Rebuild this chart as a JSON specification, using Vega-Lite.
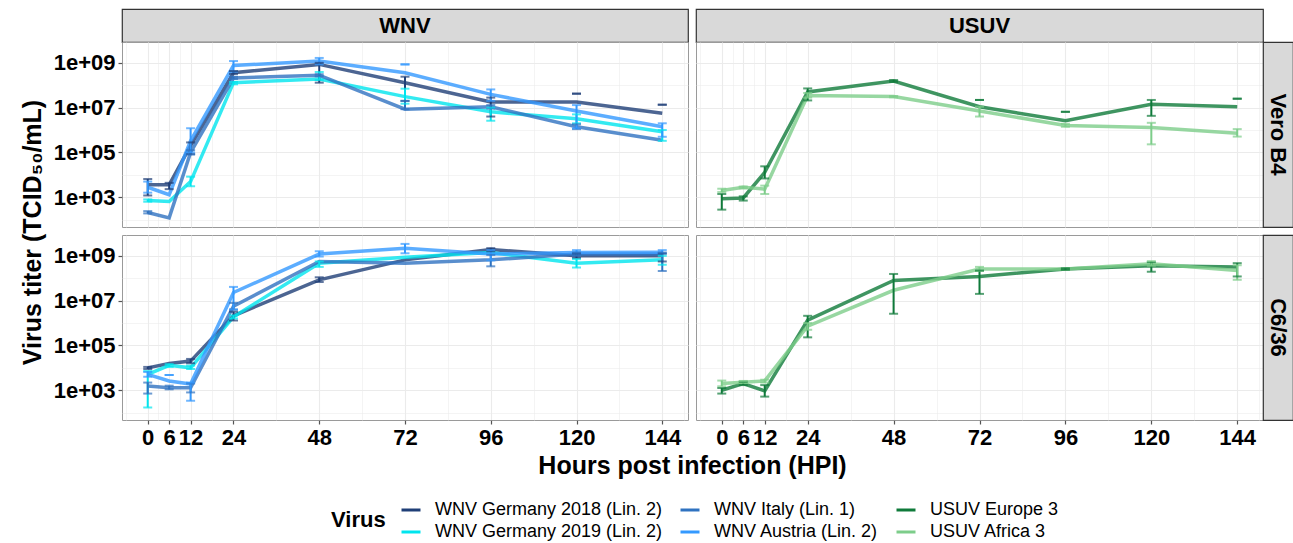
{
  "$schema": "https://vega.github.io/schema/vega-lite/v6.json",
  "background": "white",
  "padding": {"left": 19, "top": 7, "right": 2, "bottom": 2},
  "config": {
    "font": "Liberation Sans",
    "view": {"stroke": "#9a9a9a", "strokeWidth": 1},
    "axis": {
      "labelFont": "Liberation Sans", "titleFont": "Liberation Sans",
      "labelFontSize": 22, "labelFontWeight": "bold", "labelColor": "black",
      "titleFontSize": 25, "titleFontWeight": "bold", "titleColor": "black",
      "gridColor": "#ebebeb", "domain": false, "tickSize": 4, "tickWidth": 1.2,
      "labelPadding": 3, "labelOverlap": false, "labelFlush": false
    },
    "legend": {"labelFont": "Liberation Sans", "titleFont": "Liberation Sans"}
  },
  "datasets": {
    "d": [
      {"v":"WNV Germany 2018 (Lin. 2)","f":"WNV","c":"Vero B4","h":0,"m":3600,"lo":1200,"hi":6500},
      {"v":"WNV Germany 2018 (Lin. 2)","f":"WNV","c":"Vero B4","h":6,"m":3600,"lo":2300,"hi":4400},
      {"v":"WNV Germany 2018 (Lin. 2)","f":"WNV","c":"Vero B4","h":12,"m":200000,"lo":85000,"hi":280000},
      {"v":"WNV Germany 2018 (Lin. 2)","f":"WNV","c":"Vero B4","h":24,"m":3.6e8,"lo":3.2e8,"hi":4.3e8},
      {"v":"WNV Germany 2018 (Lin. 2)","f":"WNV","c":"Vero B4","h":48,"m":8.5e8,"lo":1.3e8,"hi":1.0e9},
      {"v":"WNV Germany 2018 (Lin. 2)","f":"WNV","c":"Vero B4","h":72,"m":1.3e8,"lo":2.0e7,"hi":2.4e8},
      {"v":"WNV Germany 2018 (Lin. 2)","f":"WNV","c":"Vero B4","h":96,"m":1.8e7,"lo":4.0e6,"hi":2.8e7},
      {"v":"WNV Germany 2018 (Lin. 2)","f":"WNV","c":"Vero B4","h":120,"m":1.8e7,"lo":4.2e7,"hi":4.2e7},
      {"v":"WNV Germany 2018 (Lin. 2)","f":"WNV","c":"Vero B4","h":144,"m":5.6e6,"lo":1.35e7,"hi":1.35e7},
      {"v":"WNV Germany 2019 (Lin. 2)","f":"WNV","c":"Vero B4","h":0,"m":710,"lo":630,"hi":800},
      {"v":"WNV Germany 2019 (Lin. 2)","f":"WNV","c":"Vero B4","h":6,"m":650},
      {"v":"WNV Germany 2019 (Lin. 2)","f":"WNV","c":"Vero B4","h":12,"m":5000,"lo":3100,"hi":8300},
      {"v":"WNV Germany 2019 (Lin. 2)","f":"WNV","c":"Vero B4","h":24,"m":1.3e8,"lo":1.1e8,"hi":1.4e8},
      {"v":"WNV Germany 2019 (Lin. 2)","f":"WNV","c":"Vero B4","h":48,"m":1.9e8,"lo":1.7e8,"hi":3.9e8},
      {"v":"WNV Germany 2019 (Lin. 2)","f":"WNV","c":"Vero B4","h":72,"m":3.1e7,"lo":1.5e7,"hi":7.0e7},
      {"v":"WNV Germany 2019 (Lin. 2)","f":"WNV","c":"Vero B4","h":96,"m":6.5e6,"lo":2.6e6,"hi":1.0e7},
      {"v":"WNV Germany 2019 (Lin. 2)","f":"WNV","c":"Vero B4","h":120,"m":3.2e6,"lo":2.0e6,"hi":5.0e6},
      {"v":"WNV Germany 2019 (Lin. 2)","f":"WNV","c":"Vero B4","h":144,"m":8.3e5,"lo":3.3e5,"hi":1.0e6},
      {"v":"WNV Italy (Lin. 1)","f":"WNV","c":"Vero B4","h":0,"m":210,"lo":190,"hi":240},
      {"v":"WNV Italy (Lin. 1)","f":"WNV","c":"Vero B4","h":6,"m":120},
      {"v":"WNV Italy (Lin. 1)","f":"WNV","c":"Vero B4","h":12,"m":100000,"lo":80000,"hi":126000},
      {"v":"WNV Italy (Lin. 1)","f":"WNV","c":"Vero B4","h":24,"m":2.1e8,"lo":1.9e8,"hi":2.4e8},
      {"v":"WNV Italy (Lin. 1)","f":"WNV","c":"Vero B4","h":48,"m":2.8e8,"lo":2.5e8,"hi":3.1e8},
      {"v":"WNV Italy (Lin. 1)","f":"WNV","c":"Vero B4","h":72,"m":8.5e6,"lo":8.5e6,"hi":2.0e7},
      {"v":"WNV Italy (Lin. 1)","f":"WNV","c":"Vero B4","h":96,"m":1.1e7,"lo":9.0e6,"hi":1.3e7},
      {"v":"WNV Italy (Lin. 1)","f":"WNV","c":"Vero B4","h":120,"m":1.4e6,"lo":1.1e6,"hi":1.8e6},
      {"v":"WNV Italy (Lin. 1)","f":"WNV","c":"Vero B4","h":144,"m":3.5e5},
      {"v":"WNV Austria (Lin. 2)","f":"WNV","c":"Vero B4","h":0,"m":2800,"lo":1600,"hi":5000},
      {"v":"WNV Austria (Lin. 2)","f":"WNV","c":"Vero B4","h":6,"m":1300},
      {"v":"WNV Austria (Lin. 2)","f":"WNV","c":"Vero B4","h":12,"m":330000,"lo":100000,"hi":1200000},
      {"v":"WNV Austria (Lin. 2)","f":"WNV","c":"Vero B4","h":24,"m":7.6e8,"lo":4.0e8,"hi":1.2e9},
      {"v":"WNV Austria (Lin. 2)","f":"WNV","c":"Vero B4","h":48,"m":1.2e9,"lo":8.5e8,"hi":1.65e9},
      {"v":"WNV Austria (Lin. 2)","f":"WNV","c":"Vero B4","h":72,"m":3.6e8,"lo":8.5e8,"hi":8.5e8},
      {"v":"WNV Austria (Lin. 2)","f":"WNV","c":"Vero B4","h":96,"m":3.9e7,"lo":2.0e7,"hi":6.5e7},
      {"v":"WNV Austria (Lin. 2)","f":"WNV","c":"Vero B4","h":120,"m":7.1e6,"lo":1.2e6,"hi":1.3e7},
      {"v":"WNV Austria (Lin. 2)","f":"WNV","c":"Vero B4","h":144,"m":1.4e6,"lo":5.0e5,"hi":2.0e6},
      {"v":"USUV Europe 3","f":"USUV","c":"Vero B4","h":0,"m":850,"lo":280,"hi":1400},
      {"v":"USUV Europe 3","f":"USUV","c":"Vero B4","h":6,"m":930,"lo":710,"hi":1100},
      {"v":"USUV Europe 3","f":"USUV","c":"Vero B4","h":12,"m":13000,"lo":6900,"hi":24000},
      {"v":"USUV Europe 3","f":"USUV","c":"Vero B4","h":24,"m":5.0e7,"lo":2.1e7,"hi":7.2e7},
      {"v":"USUV Europe 3","f":"USUV","c":"Vero B4","h":48,"m":1.55e8,"lo":1.4e8,"hi":1.7e8},
      {"v":"USUV Europe 3","f":"USUV","c":"Vero B4","h":72,"m":1.1e7,"lo":2.2e7,"hi":2.2e7},
      {"v":"USUV Europe 3","f":"USUV","c":"Vero B4","h":96,"m":2.6e6,"lo":6.5e6,"hi":6.5e6},
      {"v":"USUV Europe 3","f":"USUV","c":"Vero B4","h":120,"m":1.4e7,"lo":4.3e6,"hi":2.2e7},
      {"v":"USUV Europe 3","f":"USUV","c":"Vero B4","h":144,"m":1.1e7,"lo":2.5e7,"hi":2.5e7},
      {"v":"USUV Africa 3","f":"USUV","c":"Vero B4","h":0,"m":2000,"lo":1700,"hi":2400},
      {"v":"USUV Africa 3","f":"USUV","c":"Vero B4","h":6,"m":2800,"lo":2500,"hi":3000},
      {"v":"USUV Africa 3","f":"USUV","c":"Vero B4","h":12,"m":2300,"lo":1400,"hi":3300},
      {"v":"USUV Africa 3","f":"USUV","c":"Vero B4","h":24,"m":3.5e7,"lo":2.8e7,"hi":4.5e7},
      {"v":"USUV Africa 3","f":"USUV","c":"Vero B4","h":48,"m":3.1e7,"lo":2.9e7,"hi":3.3e7},
      {"v":"USUV Africa 3","f":"USUV","c":"Vero B4","h":72,"m":7.1e6,"lo":4.0e6,"hi":1.1e7},
      {"v":"USUV Africa 3","f":"USUV","c":"Vero B4","h":96,"m":1.6e6,"lo":1.4e6,"hi":1.9e6},
      {"v":"USUV Africa 3","f":"USUV","c":"Vero B4","h":120,"m":1.3e6,"lo":2.3e5,"hi":2.1e6},
      {"v":"USUV Africa 3","f":"USUV","c":"Vero B4","h":144,"m":7.2e5,"lo":5.1e5,"hi":1.1e6},
      {"v":"WNV Germany 2018 (Lin. 2)","f":"WNV","c":"C6/36","h":0,"m":10000,"lo":8900,"hi":11000},
      {"v":"WNV Germany 2018 (Lin. 2)","f":"WNV","c":"C6/36","h":6,"m":15500},
      {"v":"WNV Germany 2018 (Lin. 2)","f":"WNV","c":"C6/36","h":12,"m":20000,"lo":16000,"hi":25000},
      {"v":"WNV Germany 2018 (Lin. 2)","f":"WNV","c":"C6/36","h":24,"m":2.1e6,"lo":1.3e6,"hi":3.2e6},
      {"v":"WNV Germany 2018 (Lin. 2)","f":"WNV","c":"C6/36","h":48,"m":8.5e7,"lo":6.8e7,"hi":1.1e8},
      {"v":"WNV Germany 2018 (Lin. 2)","f":"WNV","c":"C6/36","h":72,"m":6.6e8},
      {"v":"WNV Germany 2018 (Lin. 2)","f":"WNV","c":"C6/36","h":96,"m":1.9e9,"lo":1.6e9,"hi":2.2e9},
      {"v":"WNV Germany 2018 (Lin. 2)","f":"WNV","c":"C6/36","h":120,"m":1.0e9,"lo":8.0e8,"hi":1.26e9},
      {"v":"WNV Germany 2018 (Lin. 2)","f":"WNV","c":"C6/36","h":144,"m":1.0e9,"lo":5.6e8,"hi":1.26e9},
      {"v":"WNV Germany 2019 (Lin. 2)","f":"WNV","c":"C6/36","h":0,"m":5100,"lo":170,"hi":7200},
      {"v":"WNV Germany 2019 (Lin. 2)","f":"WNV","c":"C6/36","h":6,"m":13000,"lo":11000,"hi":14500},
      {"v":"WNV Germany 2019 (Lin. 2)","f":"WNV","c":"C6/36","h":12,"m":10000,"lo":8900,"hi":12600},
      {"v":"WNV Germany 2019 (Lin. 2)","f":"WNV","c":"C6/36","h":24,"m":1.9e6,"lo":1.6e6,"hi":2.2e6},
      {"v":"WNV Germany 2019 (Lin. 2)","f":"WNV","c":"C6/36","h":48,"m":4.7e8,"lo":3.2e8,"hi":5.6e8},
      {"v":"WNV Germany 2019 (Lin. 2)","f":"WNV","c":"C6/36","h":72,"m":8.7e8},
      {"v":"WNV Germany 2019 (Lin. 2)","f":"WNV","c":"C6/36","h":96,"m":1.4e9},
      {"v":"WNV Germany 2019 (Lin. 2)","f":"WNV","c":"C6/36","h":120,"m":4.7e8,"lo":3.0e8,"hi":7.1e8},
      {"v":"WNV Germany 2019 (Lin. 2)","f":"WNV","c":"C6/36","h":144,"m":6.6e8,"lo":4.0e8,"hi":1.0e9},
      {"v":"WNV Italy (Lin. 1)","f":"WNV","c":"C6/36","h":0,"m":1550,"lo":710,"hi":2200},
      {"v":"WNV Italy (Lin. 1)","f":"WNV","c":"C6/36","h":6,"m":1300,"lo":1100,"hi":1600},
      {"v":"WNV Italy (Lin. 1)","f":"WNV","c":"C6/36","h":12,"m":1300,"lo":800,"hi":2000},
      {"v":"WNV Italy (Lin. 1)","f":"WNV","c":"C6/36","h":24,"m":5.6e6,"lo":4.0e6,"hi":7.9e6},
      {"v":"WNV Italy (Lin. 1)","f":"WNV","c":"C6/36","h":48,"m":5.6e8},
      {"v":"WNV Italy (Lin. 1)","f":"WNV","c":"C6/36","h":72,"m":4.7e8},
      {"v":"WNV Italy (Lin. 1)","f":"WNV","c":"C6/36","h":96,"m":6.6e8,"lo":3.4e8,"hi":1.1e9},
      {"v":"WNV Italy (Lin. 1)","f":"WNV","c":"C6/36","h":120,"m":1.2e9,"lo":1.0e9,"hi":1.4e9},
      {"v":"WNV Italy (Lin. 1)","f":"WNV","c":"C6/36","h":144,"m":1.2e9,"lo":2.1e8,"hi":1.4e9},
      {"v":"WNV Austria (Lin. 2)","f":"WNV","c":"C6/36","h":0,"m":5100,"lo":4000,"hi":6500},
      {"v":"WNV Austria (Lin. 2)","f":"WNV","c":"C6/36","h":6,"m":2600,"lo":4800,"hi":4800},
      {"v":"WNV Austria (Lin. 2)","f":"WNV","c":"C6/36","h":12,"m":1900,"lo":340,"hi":2200},
      {"v":"WNV Austria (Lin. 2)","f":"WNV","c":"C6/36","h":24,"m":2.3e7,"lo":4.0e6,"hi":4.1e7},
      {"v":"WNV Austria (Lin. 2)","f":"WNV","c":"C6/36","h":48,"m":1.2e9,"lo":9.3e8,"hi":1.6e9},
      {"v":"WNV Austria (Lin. 2)","f":"WNV","c":"C6/36","h":72,"m":2.2e9,"lo":1.3e9,"hi":3.4e9},
      {"v":"WNV Austria (Lin. 2)","f":"WNV","c":"C6/36","h":96,"m":1.2e9,"lo":6.3e8,"hi":1.8e9},
      {"v":"WNV Austria (Lin. 2)","f":"WNV","c":"C6/36","h":120,"m":1.4e9,"lo":1.26e9,"hi":1.8e9},
      {"v":"WNV Austria (Lin. 2)","f":"WNV","c":"C6/36","h":144,"m":1.45e9,"lo":1.26e9,"hi":1.8e9},
      {"v":"USUV Europe 3","f":"USUV","c":"C6/36","h":0,"m":1000,"lo":710,"hi":1260},
      {"v":"USUV Europe 3","f":"USUV","c":"C6/36","h":6,"m":2000,"lo":1700,"hi":2400},
      {"v":"USUV Europe 3","f":"USUV","c":"C6/36","h":12,"m":930,"lo":520,"hi":1700},
      {"v":"USUV Europe 3","f":"USUV","c":"C6/36","h":24,"m":1.35e6,"lo":2.3e5,"hi":2.1e6},
      {"v":"USUV Europe 3","f":"USUV","c":"C6/36","h":48,"m":7.9e7,"lo":2.6e6,"hi":1.55e8},
      {"v":"USUV Europe 3","f":"USUV","c":"C6/36","h":72,"m":1.2e8,"lo":2.0e7,"hi":2.2e8},
      {"v":"USUV Europe 3","f":"USUV","c":"C6/36","h":96,"m":2.6e8,"lo":2.4e8,"hi":2.75e8},
      {"v":"USUV Europe 3","f":"USUV","c":"C6/36","h":120,"m":3.6e8,"lo":1.95e8,"hi":5.2e8},
      {"v":"USUV Europe 3","f":"USUV","c":"C6/36","h":144,"m":3.2e8,"lo":1.2e8,"hi":4.7e8},
      {"v":"USUV Africa 3","f":"USUV","c":"C6/36","h":0,"m":2000,"lo":1500,"hi":2700},
      {"v":"USUV Africa 3","f":"USUV","c":"C6/36","h":6,"m":2300,"lo":2100,"hi":2600},
      {"v":"USUV Africa 3","f":"USUV","c":"C6/36","h":12,"m":2600,"lo":2200,"hi":2950},
      {"v":"USUV Africa 3","f":"USUV","c":"C6/36","h":24,"m":7.2e5,"lo":5.0e5,"hi":1.0e6},
      {"v":"USUV Africa 3","f":"USUV","c":"C6/36","h":48,"m":2.9e7},
      {"v":"USUV Africa 3","f":"USUV","c":"C6/36","h":72,"m":2.6e8,"lo":2.1e8,"hi":3.2e8},
      {"v":"USUV Africa 3","f":"USUV","c":"C6/36","h":96,"m":2.6e8},
      {"v":"USUV Africa 3","f":"USUV","c":"C6/36","h":120,"m":4.4e8,"lo":3.6e8,"hi":5.8e8},
      {"v":"USUV Africa 3","f":"USUV","c":"C6/36","h":144,"m":2.2e8,"lo":8.5e7,"hi":3.8e8}
    ]
  },
  "columns": 4,
  "spacing": 0,
  "bounds": "flush",
  "align": "each",
  "concat": [
    {"width": 566, "height": 33, "data": {"values": [{"t": "WNV"}]}, "mark": {"type": "text", "fontSize": 22, "fontWeight": "bold", "color": "black", "font": "Liberation Sans"}, "encoding": {"text": {"field": "t"}}, "view": {"fill": "#d9d9d9", "stroke": "#333333", "strokeWidth": 1.2}},
    {"width": 8, "height": 8, "data": {"values": [{}]}, "mark": "text", "encoding": {"text": {"value": ""}}, "view": {"stroke": null}},
    {"width": 567, "height": 33, "data": {"values": [{"t": "USUV"}]}, "mark": {"type": "text", "fontSize": 22, "fontWeight": "bold", "color": "black", "font": "Liberation Sans"}, "encoding": {"text": {"field": "t"}}, "view": {"fill": "#d9d9d9", "stroke": "#333333", "strokeWidth": 1.2}},
    {"width": 8, "height": 8, "data": {"values": [{}]}, "mark": "text", "encoding": {"text": {"value": ""}}, "view": {"stroke": null}},

    {"width": 566, "height": 185, "data": {"name": "d"},
     "transform": [{"filter": "datum.f === 'WNV' && datum.c === 'Vero B4'"}],
     "encoding": {"x": {"field": "h", "type": "quantitative", "scale": {"domain": [-7.2, 151.2], "nice": false, "zero": false},
       "axis": {"values": [-6, 0, 3, 6, 9, 12, 18, 24, 36, 48, 60, 72, 84, 96, 108, 120, 132, 144, 150], "labels": false, "ticks": false, "title": null,
         "gridWidth": {"condition": {"test": "indexof([0,6,12,24,48,72,96,120,144], datum.value) >= 0", "value": 1.1}, "value": 0.55}}}},
     "layer": [
       {"mark": {"type": "line", "strokeWidth": 3.5, "opacity": 0.8},
        "encoding": {"y": {"field": "m", "type": "quantitative", "scale": {"type": "log", "domain": [47, 8.5e9], "nice": false},
            "axis": {"values": [100, 1000, 10000, 100000, 1000000, 10000000, 100000000, 1000000000],
              "labelExpr": "round(log(datum.value)/LN10) % 2 === 1 ? '1e+0' + round(log(datum.value)/LN10) : ''",
              "title": "Virus titer (TCID₅₀/mL)", "titleY": 190, "titlePadding": 8,
              "tickColor": {"condition": {"test": "round(log(datum.value)/LN10) % 2 === 1", "value": "#555555"}, "value": "rgba(0,0,0,0)"},
              "gridWidth": {"condition": {"test": "round(log(datum.value)/LN10) % 2 === 1", "value": 1.1}, "value": 0.55}}},
          "color": {"field": "v", "type": "nominal",
            "scale": {"domain": ["WNV Germany 2018 (Lin. 2)", "WNV Italy (Lin. 1)", "USUV Europe 3", "WNV Germany 2019 (Lin. 2)", "WNV Austria (Lin. 2)", "USUV Africa 3"],
                      "range": ["#1f3f77", "#2f72c0", "#0f7a3a", "#00e5ee", "#3399ff", "#7dcd8a"]},
            "legend": {"orient": "none", "legendX": 209, "legendY": 490, "title": "Virus", "columns": 3, "direction": "horizontal", "titleOrient": "left",
              "symbolType": "stroke", "symbolStrokeWidth": 3, "symbolSize": 361, "symbolOpacity": 1,
              "labelFontSize": 18, "titleFontSize": 22, "titleFontWeight": "bold", "labelColor": "black", "titleColor": "black",
              "columnPadding": 11, "rowPadding": 2, "labelOffset": 13, "labelLimit": 400, "titlePadding": 14}}}},
       {"transform": [{"filter": "isValid(datum.lo)"}], "mark": {"type": "rule", "strokeWidth": 2},
        "encoding": {"y": {"field": "lo", "type": "quantitative", "scale": {"type": "log", "domain": [47, 8.5e9], "nice": false},
            "axis": {"values": [100, 1000, 10000, 100000, 1000000, 10000000, 100000000, 1000000000],
              "labelExpr": "round(log(datum.value)/LN10) % 2 === 1 ? '1e+0' + round(log(datum.value)/LN10) : ''",
              "title": "Virus titer (TCID₅₀/mL)", "titleY": 190, "titlePadding": 8,
              "tickColor": {"condition": {"test": "round(log(datum.value)/LN10) % 2 === 1", "value": "#555555"}, "value": "rgba(0,0,0,0)"},
              "gridWidth": {"condition": {"test": "round(log(datum.value)/LN10) % 2 === 1", "value": 1.1}, "value": 0.55}}},
          "y2": {"field": "hi"},
          "color": {"field": "v", "type": "nominal", "legend": null}}},
       {"transform": [{"filter": "isValid(datum.lo)"}], "mark": {"type": "tick", "orient": "horizontal", "size": 9, "thickness": 2},
        "encoding": {"y": {"field": "lo", "type": "quantitative", "scale": {"type": "log", "domain": [47, 8.5e9], "nice": false},
            "axis": {"values": [100, 1000, 10000, 100000, 1000000, 10000000, 100000000, 1000000000],
              "labelExpr": "round(log(datum.value)/LN10) % 2 === 1 ? '1e+0' + round(log(datum.value)/LN10) : ''",
              "title": "Virus titer (TCID₅₀/mL)", "titleY": 190, "titlePadding": 8,
              "tickColor": {"condition": {"test": "round(log(datum.value)/LN10) % 2 === 1", "value": "#555555"}, "value": "rgba(0,0,0,0)"},
              "gridWidth": {"condition": {"test": "round(log(datum.value)/LN10) % 2 === 1", "value": 1.1}, "value": 0.55}}},
          "color": {"field": "v", "type": "nominal", "legend": null}}},
       {"transform": [{"filter": "isValid(datum.hi)"}], "mark": {"type": "tick", "orient": "horizontal", "size": 9, "thickness": 2},
        "encoding": {"y": {"field": "hi", "type": "quantitative", "scale": {"type": "log", "domain": [47, 8.5e9], "nice": false},
            "axis": {"values": [100, 1000, 10000, 100000, 1000000, 10000000, 100000000, 1000000000],
              "labelExpr": "round(log(datum.value)/LN10) % 2 === 1 ? '1e+0' + round(log(datum.value)/LN10) : ''",
              "title": "Virus titer (TCID₅₀/mL)", "titleY": 190, "titlePadding": 8,
              "tickColor": {"condition": {"test": "round(log(datum.value)/LN10) % 2 === 1", "value": "#555555"}, "value": "rgba(0,0,0,0)"},
              "gridWidth": {"condition": {"test": "round(log(datum.value)/LN10) % 2 === 1", "value": 1.1}, "value": 0.55}}},
          "color": {"field": "v", "type": "nominal", "legend": null}}}
     ]},
    {"width": 8, "height": 8, "data": {"values": [{}]}, "mark": "text", "encoding": {"text": {"value": ""}}, "view": {"stroke": null}},
    {"width": 567, "height": 185, "data": {"name": "d"},
     "transform": [{"filter": "datum.f === 'USUV' && datum.c === 'Vero B4'"}],
     "encoding": {"x": {"field": "h", "type": "quantitative", "scale": {"domain": [-7.2, 151.2], "nice": false, "zero": false},
       "axis": {"values": [-6, 0, 3, 6, 9, 12, 18, 24, 36, 48, 60, 72, 84, 96, 108, 120, 132, 144, 150], "labels": false, "ticks": false, "title": null,
         "gridWidth": {"condition": {"test": "indexof([0,6,12,24,48,72,96,120,144], datum.value) >= 0", "value": 1.1}, "value": 0.55}}}},
     "layer": [
       {"mark": {"type": "line", "strokeWidth": 3.5, "opacity": 0.8},
        "encoding": {"y": {"field": "m", "type": "quantitative", "scale": {"type": "log", "domain": [47, 8.5e9], "nice": false},
            "axis": {"values": [100, 1000, 10000, 100000, 1000000, 10000000, 100000000, 1000000000], "labels": false, "ticks": false, "title": null,
              "gridWidth": {"condition": {"test": "round(log(datum.value)/LN10) % 2 === 1", "value": 1.1}, "value": 0.55}}},
          "color": {"field": "v", "type": "nominal", "legend": null}}},
       {"transform": [{"filter": "isValid(datum.lo)"}], "mark": {"type": "rule", "strokeWidth": 2},
        "encoding": {"y": {"field": "lo", "type": "quantitative", "scale": {"type": "log", "domain": [47, 8.5e9], "nice": false},
            "axis": {"values": [100, 1000, 10000, 100000, 1000000, 10000000, 100000000, 1000000000], "labels": false, "ticks": false, "title": null,
              "gridWidth": {"condition": {"test": "round(log(datum.value)/LN10) % 2 === 1", "value": 1.1}, "value": 0.55}}},
          "y2": {"field": "hi"},
          "color": {"field": "v", "type": "nominal", "legend": null}}},
       {"transform": [{"filter": "isValid(datum.lo)"}], "mark": {"type": "tick", "orient": "horizontal", "size": 9, "thickness": 2},
        "encoding": {"y": {"field": "lo", "type": "quantitative", "scale": {"type": "log", "domain": [47, 8.5e9], "nice": false},
            "axis": {"values": [100, 1000, 10000, 100000, 1000000, 10000000, 100000000, 1000000000], "labels": false, "ticks": false, "title": null,
              "gridWidth": {"condition": {"test": "round(log(datum.value)/LN10) % 2 === 1", "value": 1.1}, "value": 0.55}}},
          "color": {"field": "v", "type": "nominal", "legend": null}}},
       {"transform": [{"filter": "isValid(datum.hi)"}], "mark": {"type": "tick", "orient": "horizontal", "size": 9, "thickness": 2},
        "encoding": {"y": {"field": "hi", "type": "quantitative", "scale": {"type": "log", "domain": [47, 8.5e9], "nice": false},
            "axis": {"values": [100, 1000, 10000, 100000, 1000000, 10000000, 100000000, 1000000000], "labels": false, "ticks": false, "title": null,
              "gridWidth": {"condition": {"test": "round(log(datum.value)/LN10) % 2 === 1", "value": 1.1}, "value": 0.55}}},
          "color": {"field": "v", "type": "nominal", "legend": null}}}
     ]},
    {"width": 30, "height": 185, "data": {"values": [{"t": "Vero B4"}]}, "mark": {"type": "text", "fontSize": 22, "fontWeight": "bold", "color": "black", "angle": 90, "font": "Liberation Sans"}, "encoding": {"text": {"field": "t"}}, "view": {"fill": "#d9d9d9", "stroke": "#333333", "strokeWidth": 1.2}},

    {"width": 8, "height": 8, "data": {"values": [{}]}, "mark": "text", "encoding": {"text": {"value": ""}}, "view": {"stroke": null}},
    {"width": 8, "height": 8, "data": {"values": [{}]}, "mark": "text", "encoding": {"text": {"value": ""}}, "view": {"stroke": null}},
    {"width": 8, "height": 8, "data": {"values": [{}]}, "mark": "text", "encoding": {"text": {"value": ""}}, "view": {"stroke": null}},
    {"width": 8, "height": 8, "data": {"values": [{}]}, "mark": "text", "encoding": {"text": {"value": ""}}, "view": {"stroke": null}},

    {"width": 566, "height": 185, "data": {"name": "d"},
     "transform": [{"filter": "datum.f === 'WNV' && datum.c === 'C6/36'"}],
     "encoding": {"x": {"field": "h", "type": "quantitative", "scale": {"domain": [-7.2, 151.2], "nice": false, "zero": false},
       "axis": {"values": [-6, 0, 3, 6, 9, 12, 18, 24, 36, 48, 60, 72, 84, 96, 108, 120, 132, 144, 150],
         "labelExpr": "indexof([0,6,12,24,48,72,96,120,144], datum.value) >= 0 ? '' + datum.value : ''",
         "title": "Hours post infection (HPI)", "titleX": 570, "titlePadding": 5,
         "tickColor": {"condition": {"test": "indexof([0,6,12,24,48,72,96,120,144], datum.value) >= 0", "value": "#555555"}, "value": "rgba(0,0,0,0)"},
         "gridWidth": {"condition": {"test": "indexof([0,6,12,24,48,72,96,120,144], datum.value) >= 0", "value": 1.1}, "value": 0.55}}}},
     "layer": [
       {"mark": {"type": "line", "strokeWidth": 3.5, "opacity": 0.8},
        "encoding": {"y": {"field": "m", "type": "quantitative", "scale": {"type": "log", "domain": [47, 8.5e9], "nice": false},
            "axis": {"values": [100, 1000, 10000, 100000, 1000000, 10000000, 100000000, 1000000000],
              "labelExpr": "round(log(datum.value)/LN10) % 2 === 1 ? '1e+0' + round(log(datum.value)/LN10) : ''", "title": null,
              "tickColor": {"condition": {"test": "round(log(datum.value)/LN10) % 2 === 1", "value": "#555555"}, "value": "rgba(0,0,0,0)"},
              "gridWidth": {"condition": {"test": "round(log(datum.value)/LN10) % 2 === 1", "value": 1.1}, "value": 0.55}}},
          "color": {"field": "v", "type": "nominal", "legend": null}}},
       {"transform": [{"filter": "isValid(datum.lo)"}], "mark": {"type": "rule", "strokeWidth": 2},
        "encoding": {"y": {"field": "lo", "type": "quantitative", "scale": {"type": "log", "domain": [47, 8.5e9], "nice": false},
            "axis": {"values": [100, 1000, 10000, 100000, 1000000, 10000000, 100000000, 1000000000],
              "labelExpr": "round(log(datum.value)/LN10) % 2 === 1 ? '1e+0' + round(log(datum.value)/LN10) : ''", "title": null,
              "tickColor": {"condition": {"test": "round(log(datum.value)/LN10) % 2 === 1", "value": "#555555"}, "value": "rgba(0,0,0,0)"},
              "gridWidth": {"condition": {"test": "round(log(datum.value)/LN10) % 2 === 1", "value": 1.1}, "value": 0.55}}},
          "y2": {"field": "hi"},
          "color": {"field": "v", "type": "nominal", "legend": null}}},
       {"transform": [{"filter": "isValid(datum.lo)"}], "mark": {"type": "tick", "orient": "horizontal", "size": 9, "thickness": 2},
        "encoding": {"y": {"field": "lo", "type": "quantitative", "scale": {"type": "log", "domain": [47, 8.5e9], "nice": false},
            "axis": {"values": [100, 1000, 10000, 100000, 1000000, 10000000, 100000000, 1000000000],
              "labelExpr": "round(log(datum.value)/LN10) % 2 === 1 ? '1e+0' + round(log(datum.value)/LN10) : ''", "title": null,
              "tickColor": {"condition": {"test": "round(log(datum.value)/LN10) % 2 === 1", "value": "#555555"}, "value": "rgba(0,0,0,0)"},
              "gridWidth": {"condition": {"test": "round(log(datum.value)/LN10) % 2 === 1", "value": 1.1}, "value": 0.55}}},
          "color": {"field": "v", "type": "nominal", "legend": null}}},
       {"transform": [{"filter": "isValid(datum.hi)"}], "mark": {"type": "tick", "orient": "horizontal", "size": 9, "thickness": 2},
        "encoding": {"y": {"field": "hi", "type": "quantitative", "scale": {"type": "log", "domain": [47, 8.5e9], "nice": false},
            "axis": {"values": [100, 1000, 10000, 100000, 1000000, 10000000, 100000000, 1000000000],
              "labelExpr": "round(log(datum.value)/LN10) % 2 === 1 ? '1e+0' + round(log(datum.value)/LN10) : ''", "title": null,
              "tickColor": {"condition": {"test": "round(log(datum.value)/LN10) % 2 === 1", "value": "#555555"}, "value": "rgba(0,0,0,0)"},
              "gridWidth": {"condition": {"test": "round(log(datum.value)/LN10) % 2 === 1", "value": 1.1}, "value": 0.55}}},
          "color": {"field": "v", "type": "nominal", "legend": null}}}
     ]},
    {"width": 8, "height": 8, "data": {"values": [{}]}, "mark": "text", "encoding": {"text": {"value": ""}}, "view": {"stroke": null}},
    {"width": 567, "height": 185, "data": {"name": "d"},
     "transform": [{"filter": "datum.f === 'USUV' && datum.c === 'C6/36'"}],
     "encoding": {"x": {"field": "h", "type": "quantitative", "scale": {"domain": [-7.2, 151.2], "nice": false, "zero": false},
       "axis": {"values": [-6, 0, 3, 6, 9, 12, 18, 24, 36, 48, 60, 72, 84, 96, 108, 120, 132, 144, 150],
         "labelExpr": "indexof([0,6,12,24,48,72,96,120,144], datum.value) >= 0 ? '' + datum.value : ''",
         "title": null,
         "tickColor": {"condition": {"test": "indexof([0,6,12,24,48,72,96,120,144], datum.value) >= 0", "value": "#555555"}, "value": "rgba(0,0,0,0)"},
         "gridWidth": {"condition": {"test": "indexof([0,6,12,24,48,72,96,120,144], datum.value) >= 0", "value": 1.1}, "value": 0.55}}}},
     "layer": [
       {"mark": {"type": "line", "strokeWidth": 3.5, "opacity": 0.8},
        "encoding": {"y": {"field": "m", "type": "quantitative", "scale": {"type": "log", "domain": [47, 8.5e9], "nice": false},
            "axis": {"values": [100, 1000, 10000, 100000, 1000000, 10000000, 100000000, 1000000000], "labels": false, "ticks": false, "title": null,
              "gridWidth": {"condition": {"test": "round(log(datum.value)/LN10) % 2 === 1", "value": 1.1}, "value": 0.55}}},
          "color": {"field": "v", "type": "nominal", "legend": null}}},
       {"transform": [{"filter": "isValid(datum.lo)"}], "mark": {"type": "rule", "strokeWidth": 2},
        "encoding": {"y": {"field": "lo", "type": "quantitative", "scale": {"type": "log", "domain": [47, 8.5e9], "nice": false},
            "axis": {"values": [100, 1000, 10000, 100000, 1000000, 10000000, 100000000, 1000000000], "labels": false, "ticks": false, "title": null,
              "gridWidth": {"condition": {"test": "round(log(datum.value)/LN10) % 2 === 1", "value": 1.1}, "value": 0.55}}},
          "y2": {"field": "hi"},
          "color": {"field": "v", "type": "nominal", "legend": null}}},
       {"transform": [{"filter": "isValid(datum.lo)"}], "mark": {"type": "tick", "orient": "horizontal", "size": 9, "thickness": 2},
        "encoding": {"y": {"field": "lo", "type": "quantitative", "scale": {"type": "log", "domain": [47, 8.5e9], "nice": false},
            "axis": {"values": [100, 1000, 10000, 100000, 1000000, 10000000, 100000000, 1000000000], "labels": false, "ticks": false, "title": null,
              "gridWidth": {"condition": {"test": "round(log(datum.value)/LN10) % 2 === 1", "value": 1.1}, "value": 0.55}}},
          "color": {"field": "v", "type": "nominal", "legend": null}}},
       {"transform": [{"filter": "isValid(datum.hi)"}], "mark": {"type": "tick", "orient": "horizontal", "size": 9, "thickness": 2},
        "encoding": {"y": {"field": "hi", "type": "quantitative", "scale": {"type": "log", "domain": [47, 8.5e9], "nice": false},
            "axis": {"values": [100, 1000, 10000, 100000, 1000000, 10000000, 100000000, 1000000000], "labels": false, "ticks": false, "title": null,
              "gridWidth": {"condition": {"test": "round(log(datum.value)/LN10) % 2 === 1", "value": 1.1}, "value": 0.55}}},
          "color": {"field": "v", "type": "nominal", "legend": null}}}
     ]},
    {"width": 30, "height": 185, "data": {"values": [{"t": "C6/36"}]}, "mark": {"type": "text", "fontSize": 22, "fontWeight": "bold", "color": "black", "angle": 90, "font": "Liberation Sans"}, "encoding": {"text": {"field": "t"}}, "view": {"fill": "#d9d9d9", "stroke": "#333333", "strokeWidth": 1.2}}
  ]
}
